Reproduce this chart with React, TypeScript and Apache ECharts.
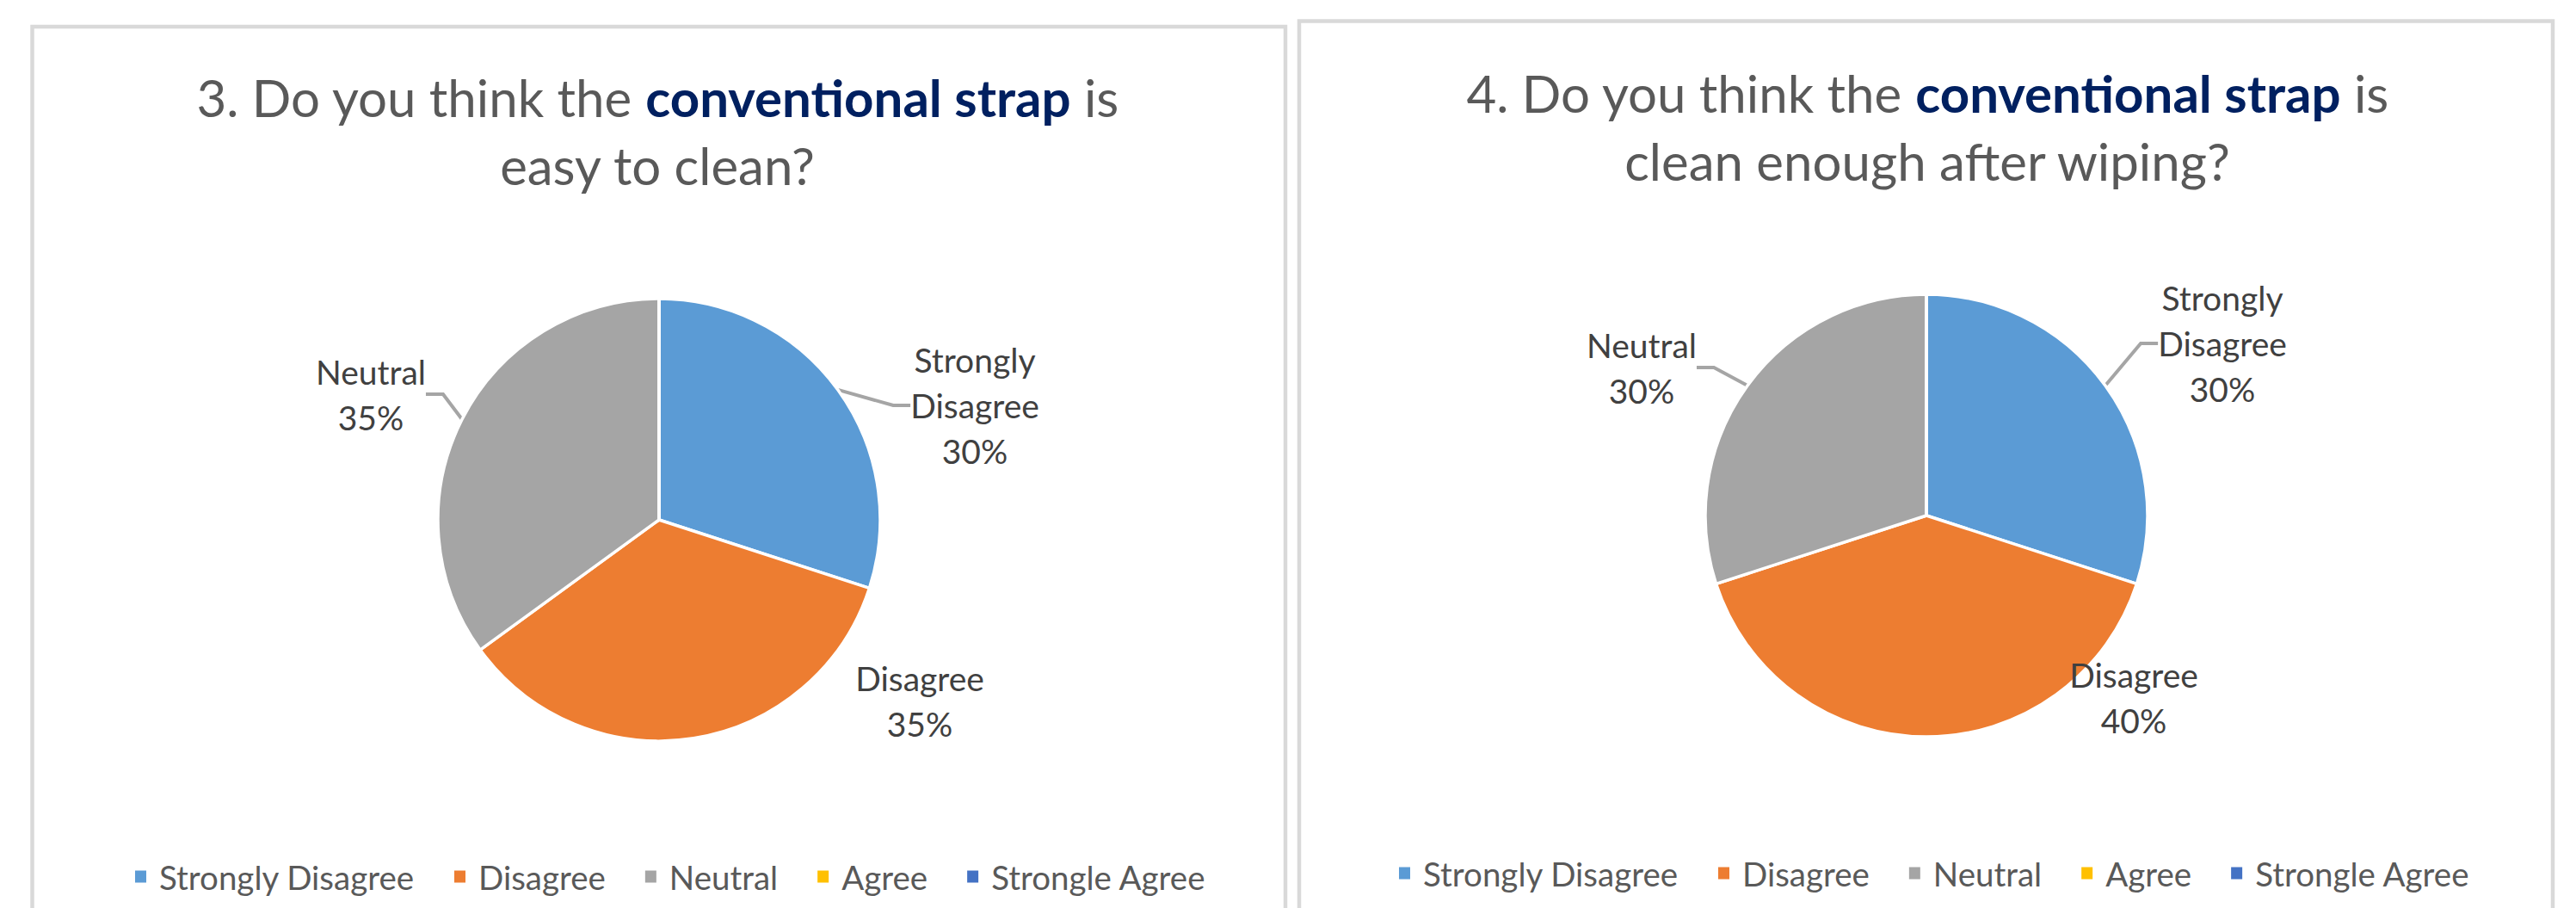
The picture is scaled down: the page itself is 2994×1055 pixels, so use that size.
import React, { useEffect, useRef } from 'react';
import * as echarts from 'echarts';

// ---------- data ----------
const categories = ['Strongly Disagree', 'Disagree', 'Neutral', 'Agree', 'Strongle Agree'];
const sliceColors = ['#5B9BD5', '#ED7D31', '#A5A5A5', '#FFC000', '#4472C4'];
const q3Values = [30, 35, 35, 0, 0];
const q4Values = [30, 40, 30, 0, 0];
const q3Title = ['3. Do you think the ', 'conventional strap', ' is', 'easy to clean?'];
const q4Title = ['4. Do you think the ', 'conventional strap', ' is', 'clean enough after wiping?'];

// ---------- layout (positions / sizes, kept apart from the data) ----------
const FONT = 'Lato';
const panels = [
  {
    values: q3Values,
    title: q3Title,
    frame: { x: 37.5, y: 31, w: 1456.5, h: 1100 },
    center: [766, 604],
    titlePos: [764, 152],
    legendPos: [150, 994],
    labelOffsets: [[367, -133], [303, 210], [-335, -146]],
    leader: [true, false, true],
  },
  {
    values: q4Values,
    title: q4Title,
    frame: { x: 1510, y: 24.5, w: 1457, h: 1100 },
    center: [2239, 599],
    titlePos: [2240, 147],
    legendPos: [1619, 990],
    labelOffsets: [[344, -200], [241, 211], [-331, -172]],
    leader: [true, false, true],
  },
];
const RADIUS = 257;

function buildOption() {
  const graphic: any[] = [];
  const series: any[] = [];
  const legends: any[] = [];

  panels.forEach((p) => {
    graphic.push({
      type: 'rect',
      shape: { x: p.frame.x, y: p.frame.y, width: p.frame.w, height: p.frame.h },
      style: { fill: 'none', stroke: '#D9D9D9', lineWidth: 4.5 },
      silent: true,
    });
    graphic.push({
      type: 'text',
      x: p.titlePos[0],
      y: p.titlePos[1],
      style: {
        text: `{n|${p.title[0]}}{b|${p.title[1]}}{n|${p.title[2]}}\n{n|${p.title[3]}}`,
        align: 'center',
        verticalAlign: 'middle',
        rich: {
          n: { fontFamily: FONT, fontSize: 60, fill: '#595959', lineHeight: 79 },
          b: { fontFamily: FONT, fontSize: 60, fontWeight: 'bold', fill: '#002060', lineHeight: 79 },
        },
      },
      silent: true,
    });

    const [cx, cy] = p.center;
    series.push({
      type: 'pie',
      center: p.center,
      radius: RADIUS,
      startAngle: 90,
      clockwise: true,
      avoidLabelOverlap: false,
      silent: true,
      itemStyle: { borderColor: '#ffffff', borderWidth: 3.5 },
      label: {
        show: true,
        position: 'outside',
        fontFamily: FONT,
        fontSize: 39,
        lineHeight: 53,
        color: '#404040',
        formatter: (prm: any) => `${prm.name.replace(' ', '\n')}\n${Math.round(prm.percent)}%`,
      },
      labelLine: {
        show: true,
        length: 10,
        length2: 20,
        smooth: false,
        lineStyle: { color: '#A5A5A5', width: 4 },
      },
      labelLayout: (prm: any) => {
        const off = p.labelOffsets[prm.dataIndex];
        if (!off) return {};
        return { x: cx + off[0], y: cy + off[1], align: 'center', verticalAlign: 'middle' };
      },
      data: categories.map((name, i) => ({
        name,
        value: p.values[i],
        itemStyle: { color: sliceColors[i] },
        label: { show: p.values[i] > 0 },
        labelLine: { show: p.values[i] > 0 && !!p.leader[i] },
      })),
    });

    legends.push({
      left: p.legendPos[0],
      top: p.legendPos[1],
      orient: 'horizontal',
      data: categories,
      icon: 'rect',
      itemWidth: 15,
      itemHeight: 16,
      itemGap: 44,
      selectedMode: false,
      textStyle: { fontFamily: FONT, fontSize: 38.5, color: '#595959', padding: [0, 0, 0, 9] },
    });
  });

  return {
    animation: false,
    backgroundColor: '#ffffff',
    color: sliceColors,
    legend: legends,
    graphic,
    series,
  };
}

export default function App() {
  const ref = useRef<HTMLDivElement>(null);
  useEffect(() => {
    if (!ref.current) return;
    const chart = echarts.init(ref.current, undefined, { renderer: 'svg' });
    chart.setOption(buildOption());
    return () => chart.dispose();
  }, []);
  return (
    <div
      ref={ref}
      style={{ position: 'fixed', left: 0, top: 0, width: 2994, height: 1055, background: '#ffffff' }}
    />
  );
}
